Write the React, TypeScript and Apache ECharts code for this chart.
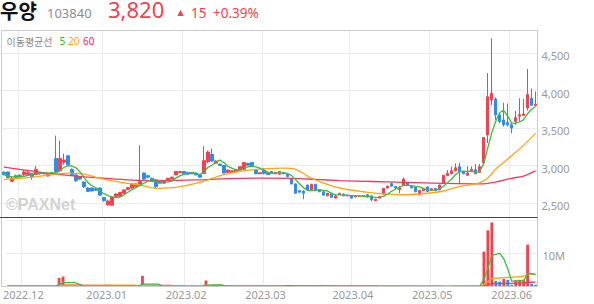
import React, { useEffect, useRef } from 'react';
import * as echarts from 'echarts';

// ---- data ----
const stockName = '우양';
const stockCode = '103840';
const lastPrice = 3820;
const priceChange = 15;
const changePct = 0.39;

const tradingMonths: [string, number[]][] = [
  ['2022.11', [25, 28, 29, 30]],
  ['2022.12', [1, 2, 5, 6, 7, 8, 9, 12, 13, 14, 15, 16, 19, 20, 21, 22, 23, 26, 27, 28, 29]],
  ['2023.01', [2, 3, 4, 5, 6, 9, 10, 11, 12, 13, 16, 17, 18, 19, 20, 25, 26, 27, 30, 31]],
  ['2023.02', [1, 2, 3, 6, 7, 8, 9, 10, 13, 14, 15, 16, 17, 20, 21, 22, 23, 24, 27, 28]],
  ['2023.03', [2, 3, 6, 7, 8, 9, 10, 13, 14, 15, 16, 17, 20, 21, 22, 23, 24, 27, 28, 29, 30, 31]],
  ['2023.04', [3, 4, 5, 6, 7, 10, 11, 12, 13, 14, 17, 18, 19, 20, 21, 24, 25, 26, 27, 28]],
  ['2023.05', [2, 3, 4, 8, 9, 10, 11, 12, 15, 16, 17, 18, 19, 22, 23, 24, 25, 26, 30, 31]],
  ['2023.06', [1, 2, 5, 7, 8, 9, 12]],
];

const opens = [
  2910, 2915, 2790, 2865, 2870, 2880, 2880, 2895, 2880, 2905,
  2890, 2860, 2905, 3095, 2930, 3045, 3130, 2950, 2875, 2850,
  2780, 2700, 2700, 2690, 2700, 2575, 2475, 2470, 2590, 2590,
  2630, 2680, 2700, 2720, 2755, 2900, 2865, 2830, 2810, 2785,
  2765, 2805, 2820, 2875, 2905, 2920, 2910, 2890, 2900, 2875,
  2895, 3050, 3150, 3030, 3020, 3000, 2910, 2905, 2920, 2940,
  2950, 3030, 3040, 2940, 2890, 2940, 2905, 2920, 2890, 2885,
  2910, 2880, 2820, 2755, 2665, 2660, 2740, 2680, 2750, 2680,
  2650, 2595, 2630, 2565, 2610, 2620, 2595, 2600, 2580, 2585,
  2590, 2610, 2595, 2530, 2565, 2620, 2700, 2760, 2720, 2680,
  2735, 2770, 2720, 2710, 2615, 2665, 2715, 2665, 2695, 2675,
  2765, 2865, 2890, 2930, 2985, 2925, 2870, 2920, 2945, 2910,
  3040, 3410, 3877, 3890, 3677, 3610, 3575, 3545, 3590, 3660,
  3670, 3770, 3900, 3800,
];
const closes = [
  2880, 2840, 2830, 2845, 2850, 2915, 2905, 2855, 2950, 2890,
  2900, 2890, 2890, 2920, 3095, 3075, 3010, 2870, 2800, 2820,
  2715, 2655, 2660, 2670, 2605, 2530, 2525, 2580, 2620, 2640,
  2675, 2705, 2755, 2755, 2785, 2820, 2845, 2785, 2720, 2765,
  2800, 2830, 2845, 2920, 2920, 2890, 2885, 2905, 2875, 2845,
  3065, 3180, 3060, 3060, 3000, 2900, 2940, 2930, 2945, 2985,
  3040, 3005, 2990, 2890, 2905, 2897, 2880, 2897, 2910, 2920,
  2890, 2852, 2755, 2630, 2645, 2630, 2675, 2750, 2665, 2650,
  2605, 2630, 2575, 2595, 2630, 2595, 2607, 2565, 2590, 2595,
  2600, 2580, 2545, 2550, 2585, 2696, 2725, 2725, 2700, 2705,
  2820, 2740, 2700, 2650, 2670, 2695, 2655, 2690, 2665, 2740,
  2870, 2895, 2930, 2970, 2920, 2890, 2900, 2950, 2890, 2985,
  3375, 3920, 3966, 3677, 3587, 3545, 3545, 3500, 3640, 3680,
  3690, 3950, 3805, 3820,
];
const lows = [
  2870, 2830, 2780, 2835, 2845, 2850, 2870, 2810, 2870, 2880,
  2885, 2855, 2880, 2905, 2920, 3010, 3000, 2860, 2780, 2810,
  2700, 2650, 2655, 2660, 2590, 2520, 2460, 2465, 2585, 2585,
  2625, 2675, 2695, 2715, 2740, 2810, 2830, 2780, 2690, 2760,
  2760, 2800, 2815, 2870, 2900, 2885, 2880, 2885, 2870, 2840,
  2890, 3030, 3050, 3025, 2995, 2895, 2905, 2900, 2915, 2935,
  2945, 3000, 2985, 2885, 2885, 2880, 2875, 2890, 2885, 2880,
  2885, 2845, 2750, 2625, 2640, 2550, 2670, 2675, 2660, 2645,
  2600, 2590, 2570, 2560, 2605, 2590, 2590, 2560, 2575, 2580,
  2585, 2575, 2520, 2525, 2560, 2615, 2695, 2720, 2690, 2630,
  2730, 2735, 2695, 2645, 2600, 2660, 2650, 2660, 2660, 2670,
  2760, 2860, 2885, 2925, 2765, 2885, 2865, 2915, 2885, 2905,
  3030, 3300, 3810, 3610, 3565, 3520, 3520, 3430, 3545, 3590,
  3660, 3735, 3800, 3795,
];
const highs = [
  2925, 2920, 2860, 2880, 2885, 2940, 2940, 2900, 2995, 2915,
  2910, 2900, 2910, 3400, 3335, 3160, 3140, 2960, 2880, 2860,
  2790, 2710, 2705, 2700, 2710, 2580, 2545, 2590, 2630, 2650,
  2680, 2715, 2760, 2765, 3270, 2905, 2870, 2840, 2815, 2790,
  2805, 2835, 2850, 2925, 2930, 2925, 2915, 2910, 2905, 2880,
  3260, 3200, 3230, 3070, 3025, 3005, 2945, 2935, 2950, 2990,
  3045, 3035, 3045, 2945, 2910, 2970, 2910, 2925, 2915, 2925,
  2915, 2885, 2825, 2760, 2670, 2665, 2745, 2755, 2755, 2685,
  2655, 2635, 2635, 2600, 2635, 2625, 2612, 2605, 2595, 2600,
  2605, 2615, 2600, 2555, 2590, 2700, 2730, 2775, 2725, 2730,
  2840, 2775, 2725, 2715, 2675, 2700, 2720, 2695, 2700, 2745,
  2875, 2940, 2985, 3030, 3040, 2930, 2990, 2990, 3020, 3020,
  3380, 4235, 4700, 3910, 3700, 3840, 3830, 3580, 3730, 3900,
  3890, 4290, 4030, 3990,
];
// volume in thousands of shares
const volumesK = [
  70, 90, 110, 60, 50, 80, 70, 90, 150, 60,
  40, 70, 50, 2600, 3000, 180, 120, 150, 110, 90,
  120, 100, 70, 60, 130, 150, 140, 160, 90, 80,
  70, 60, 90, 80, 3200, 170, 90, 80, 120, 60,
  70, 60, 50, 110, 60, 50, 40, 50, 60, 70,
  1800, 210, 140, 80, 60, 90, 50, 40, 50, 70,
  90, 60, 50, 70, 40, 40, 60, 40, 50, 40,
  40, 60, 130, 170, 60, 90, 80, 70, 90, 60,
  50, 60, 40, 50, 40, 30, 40, 30, 30, 30,
  40, 50, 40, 50, 120, 100, 60, 70, 50, 60,
  90, 50, 50, 40, 50, 40, 40, 30, 40, 30,
  60, 140, 90, 100, 120, 150, 90, 80, 90, 110,
  10500, 16900, 19300, 1700, 1500, 2300, 2000, 500, 1900, 2000,
  2050, 12600, 800, 500,
];
// moving-average lines: [dayIndex, price]
const ma20Points: [number, number][] = [
  [0, 2815], [8, 2850], [16, 2900], [20, 2885], [24, 2830], [30, 2770], [34, 2740],
  [38, 2695], [42, 2705], [46, 2740], [50, 2790], [55, 2880], [60, 2930], [65, 2955],
  [70, 2965], [73, 2950], [77, 2830], [82, 2730], [86, 2680], [90, 2650], [94, 2625],
  [100, 2610], [106, 2630], [110, 2660], [114, 2720], [119, 2770], [121, 2830],
  [123, 2950], [127, 3130], [130, 3270], [133, 3430],
];
const ma60Points: [number, number][] = [
  [0, 2980], [8, 2920], [16, 2870], [24, 2835], [32, 2805], [40, 2800], [48, 2808],
  [56, 2825], [64, 2832], [72, 2830], [78, 2815], [84, 2800], [92, 2787], [100, 2775],
  [110, 2762], [119, 2755], [123, 2780], [127, 2830], [130, 2860], [133, 2930],
];
const priceTicks = [2500, 3000, 3500, 4000, 4500];
const volumeTicksK = [10000, 20000];
const volumeLabelTicksK = [10000];

const RED = '#f2424f';
const BLUE = '#2e8cf0';
const MA5_COLOR = '#3dbb3d';
const MA20_COLOR = '#ffa514';
const MA60_COLOR = '#f5385e';
const GRID_COLOR = '#ececec';
const LABEL_COLOR = '#999999';

// axis ranges (pixel layout of the two panels)
const PRICE_MIN = 2306;
const PRICE_MAX = 4798;
const PRICE_LABEL_SHIFT = 33; // labels sit ~2.5px below their grid line
const VOL_MAX = 20780;
const VOL_LABEL_SHIFT = 720;

function movingAverage(values: number[], n: number): number[] {
  return values.map((_, i) => {
    const start = Math.max(0, i - n + 1);
    let s = 0;
    for (let k = start; k <= i; k++) s += values[k];
    return s / (i - start + 1);
  });
}

export default function App() {
  const ref = useRef<HTMLDivElement>(null);
  useEffect(() => {
    if (!ref.current) return;
    const chart = echarts.init(ref.current, undefined, { renderer: 'svg' });
    const dates = tradingMonths.flatMap(([ym, days]) =>
      days.map((d) => `${ym}.${String(d).padStart(2, '0')}`)
    );
    const monthStart = dates.map(
      (d, i) => i > 0 && d.slice(0, 7) !== dates[i - 1].slice(0, 7)
    );
    const candles = dates.map((_, i) => [opens[i], closes[i], lows[i], highs[i]]);
    const ma5 = movingAverage(closes, 5);
    const volData = volumesK.map((v, i) => ({
      value: v,
      itemStyle: { color: i > 0 && v < volumesK[i - 1] ? BLUE : RED },
    }));
    const vma5 = movingAverage(volumesK, 5);
    const vma20 = movingAverage(volumesK, 20);
    const vma60 = movingAverage(volumesK, 60);

    const baseX = {
      type: 'category' as const,
      data: dates,
      boundaryGap: true,
      axisLine: { show: false },
      axisTick: { show: false },
      splitLine: {
        show: true,
        interval: (i: number) => monthStart[i],
        lineStyle: { color: GRID_COLOR, width: 1 },
      },
    };
    const lineBase = {
      type: 'line' as const,
      showSymbol: false,
      symbol: 'none',
      silent: true,
    };
    const labelStyle = {
      color: LABEL_COLOR,
      fontSize: 11,
      fontFamily: 'Noto Sans',
    };

    const option: any = {
      animation: false,
      backgroundColor: '#ffffff',
      textStyle: { fontFamily: 'Noto Sans' },
      grid: [
        { left: 2, top: 31, width: 535.5, height: 186.5 },
        { left: 2, top: 217.5, width: 535.5, height: 69 },
      ],
      xAxis: [
        { ...baseX, gridIndex: 0, axisLabel: { show: false } },
        {
          ...baseX,
          gridIndex: 1,
          axisLabel: {
            ...labelStyle,
            show: true,
            interval: (i: number) => monthStart[i],
            formatter: (v: string) => v.slice(0, 7),
            margin: 2,
          },
        },
      ],
      yAxis: [
        {
          type: 'value',
          gridIndex: 0,
          position: 'right',
          min: PRICE_MIN,
          max: PRICE_MAX,
          axisLine: { show: false },
          axisTick: { show: false, customValues: priceTicks },
          axisLabel: { show: false },
          splitLine: { show: true, lineStyle: { color: GRID_COLOR, width: 1 } },
        },
        {
          type: 'value',
          gridIndex: 1,
          position: 'right',
          min: 0,
          max: VOL_MAX,
          axisLine: { show: false },
          axisTick: { show: false, customValues: volumeTicksK },
          axisLabel: { show: false },
          splitLine: { show: true, lineStyle: { color: GRID_COLOR, width: 1 } },
        },
        {
          // label-only axis for prices
          type: 'value',
          gridIndex: 0,
          position: 'right',
          min: PRICE_MIN + PRICE_LABEL_SHIFT,
          max: PRICE_MAX + PRICE_LABEL_SHIFT,
          axisLine: { show: false },
          axisTick: { show: false, customValues: priceTicks },
          splitLine: { show: false },
          axisLabel: {
            ...labelStyle,
            customValues: priceTicks,
            formatter: (v: number) => v.toLocaleString('en-US'),
            margin: 4,
          },
        },
        {
          // label-only axis for volume
          type: 'value',
          gridIndex: 1,
          position: 'right',
          min: VOL_LABEL_SHIFT,
          max: VOL_MAX + VOL_LABEL_SHIFT,
          axisLine: { show: false },
          axisTick: { show: false, customValues: volumeLabelTicksK },
          splitLine: { show: false },
          axisLabel: {
            ...labelStyle,
            customValues: volumeLabelTicksK,
            formatter: (v: number) => `${v / 1000}M`,
            margin: 5,
          },
        },
      ],
      series: [
        {
          type: 'candlestick',
          xAxisIndex: 0,
          yAxisIndex: 0,
          data: candles,
          barWidth: 3,
          silent: true,
          itemStyle: {
            color: RED,
            color0: BLUE,
            borderColor: RED,
            borderColor0: BLUE,
            borderWidth: 1,
          },
        },
        { ...lineBase, xAxisIndex: 0, yAxisIndex: 0, data: ma60Points, smooth: 0.3, lineStyle: { color: MA60_COLOR, width: 1.3 } },
        { ...lineBase, xAxisIndex: 0, yAxisIndex: 0, data: ma20Points, smooth: 0.3, lineStyle: { color: MA20_COLOR, width: 1.3 } },
        { ...lineBase, xAxisIndex: 0, yAxisIndex: 0, data: ma5, lineStyle: { color: MA5_COLOR, width: 1.3 } },
        {
          type: 'bar',
          xAxisIndex: 1,
          yAxisIndex: 1,
          data: volData,
          barWidth: 2.8,
          silent: true,
        },
        { ...lineBase, xAxisIndex: 1, yAxisIndex: 1, data: vma60, lineStyle: { color: MA60_COLOR, width: 1.3 } },
        { ...lineBase, xAxisIndex: 1, yAxisIndex: 1, data: vma20, lineStyle: { color: MA20_COLOR, width: 1.3 } },
        { ...lineBase, xAxisIndex: 1, yAxisIndex: 1, data: vma5, lineStyle: { color: MA5_COLOR, width: 1.3 } },
      ],
      graphic: [
        {
          type: 'text', x: 6, y: 204, z: 1, silent: true,
          style: { text: '©PAXNet', fontSize: 16, fontWeight: 'bold', fontFamily: 'Liberation Sans', fill: '#d2d2d2', verticalAlign: 'middle' },
        },
        {
          type: 'rect', z: 100, silent: true,
          shape: { x: 1.5, y: 30.5, width: 536, height: 256 },
          style: { fill: 'none', stroke: '#cccccc', lineWidth: 1 },
        },
        {
          type: 'line', z: 101, silent: true,
          shape: { x1: 0, y1: 217.5, x2: 537.5, y2: 217.5 },
          style: { stroke: '#454545', lineWidth: 1 },
        },
        {
          type: 'text', x: 0, y: 10, z: 100,
          style: { text: stockName, fontSize: 20, lineHeight: 20, fontWeight: 'bold', fontFamily: 'Noto Sans CJK KR', fill: '#111111', verticalAlign: 'middle' },
        },
        {
          type: 'text', x: 47, y: 12.5, z: 100,
          style: { text: stockCode, fontSize: 13, lineHeight: 14, fontFamily: 'Noto Sans', fill: '#8c8c8c', verticalAlign: 'middle' },
        },
        {
          type: 'text', x: 108, y: 9, z: 100,
          style: { text: lastPrice.toLocaleString('en-US'), fontSize: 22, lineHeight: 18, fontFamily: 'Noto Sans', fill: RED, verticalAlign: 'middle' },
        },
        {
          type: 'text', x: 177.5, y: 12, z: 100,
          style: { text: '▲', fontSize: 8, lineHeight: 9, fontFamily: 'DejaVu Sans', fill: RED, verticalAlign: 'middle' },
        },
        {
          type: 'text', x: 191, y: 12.5, z: 100,
          style: { text: String(priceChange), fontSize: 13.5, lineHeight: 14, fontFamily: 'Noto Sans', fill: RED, verticalAlign: 'middle' },
        },
        {
          type: 'text', x: 213, y: 12.5, z: 100,
          style: { text: `+${changePct.toFixed(2)}%`, fontSize: 13.5, lineHeight: 14, fontFamily: 'Noto Sans', fill: RED, verticalAlign: 'middle' },
        },
        {
          type: 'text', x: 6.5, y: 41, z: 100,
          style: { text: '이동평균선', fontSize: 10, fontFamily: 'Noto Sans CJK KR', fill: '#8a8a8a', verticalAlign: 'middle' },
        },
        {
          type: 'text', x: 59.5, y: 41, z: 100,
          style: { text: '5', fontSize: 10, fontFamily: 'Noto Sans', fill: '#2db52d', verticalAlign: 'middle' },
        },
        {
          type: 'text', x: 68, y: 41, z: 100,
          style: { text: '20', fontSize: 10, fontFamily: 'Noto Sans', fill: MA20_COLOR, verticalAlign: 'middle' },
        },
        {
          type: 'text', x: 83, y: 41, z: 100,
          style: { text: '60', fontSize: 10, fontFamily: 'Noto Sans', fill: '#f0286e', verticalAlign: 'middle' },
        },
      ],
    };
    chart.setOption(option);
    return () => chart.dispose();
  }, []);
  return (
    <div
      ref={ref}
      style={{ position: 'fixed', left: 0, top: 0, width: 594, height: 304, background: '#fff' }}
    />
  );
}
